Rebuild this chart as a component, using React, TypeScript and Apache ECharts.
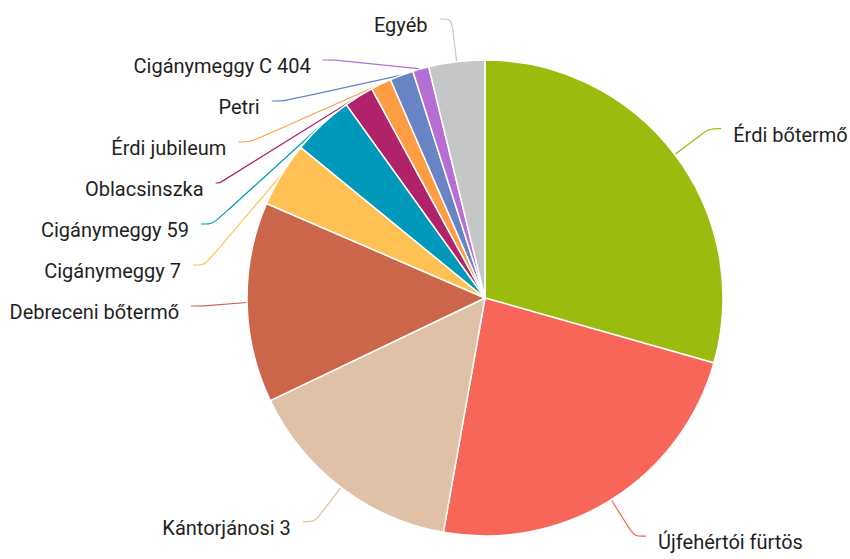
import React, { useEffect, useRef } from "react";
import * as echarts from "echarts";

const categories = [
  "Érdi bőtermő",
  "Újfehértói fürtös",
  "Kántorjánosi 3",
  "Debreceni bőtermő",
  "Cigánymeggy 7",
  "Cigánymeggy 59",
  "Oblacsinszka",
  "Érdi jubileum",
  "Petri",
  "Cigánymeggy C 404",
  "Egyéb",
];

const values = [29.4, 23.4, 15.1, 13.6, 4.4, 4.2, 2.0, 1.4, 1.6, 1.1, 3.8];

const colors = [
  "#9BBC0E",
  "#F8665A",
  "#DEC1A6",
  "#CB664A",
  "#FFC153",
  "#0099B9",
  "#B0236A",
  "#FF9D45",
  "#6884C4",
  "#B56FD4",
  "#C5C6C8",
];

export default function App() {
  const ref = useRef<HTMLDivElement>(null);

  useEffect(() => {
    if (!ref.current) return;
    const chart = echarts.init(ref.current, undefined, { renderer: "svg" });
    chart.setOption({
      animation: false,
      backgroundColor: "#ffffff",
      color: colors,
      series: [
        {
          type: "pie",
          center: [485, 304],
          radius: 238,
          startAngle: 90,
          clockwise: true,
          avoidLabelOverlap: true,
          itemStyle: { borderColor: "#ffffff", borderWidth: 1.5 },
          label: {
            show: true,
            position: "outside",
            color: "#1f1f1f",
            fontFamily: "Roboto",
            fontSize: 20,
            lineHeight: 27,
            width: 200,
            overflow: "none",
            padding: [0, 13, 0, 13],
            distanceToLabelLine: -1,
            formatter: "{p| }\n{b}",
            rich: {
              p: { fontSize: 8, lineHeight: 12 },
            },
          },
          labelLine: {
            show: true,
            length: 43,
            length2: 12,
            smooth: true,
            lineStyle: { width: 1.2 },
          },
          emphasis: { disabled: true },
          data: categories.map((name, i) => ({ name, value: values[i] })),
        },
      ],
    });
    return () => chart.dispose();
  }, []);

  return (
    <div
      ref={ref}
      style={{ position: "fixed", left: 0, top: -6, width: 850, height: 565 }}
    />
  );
}
